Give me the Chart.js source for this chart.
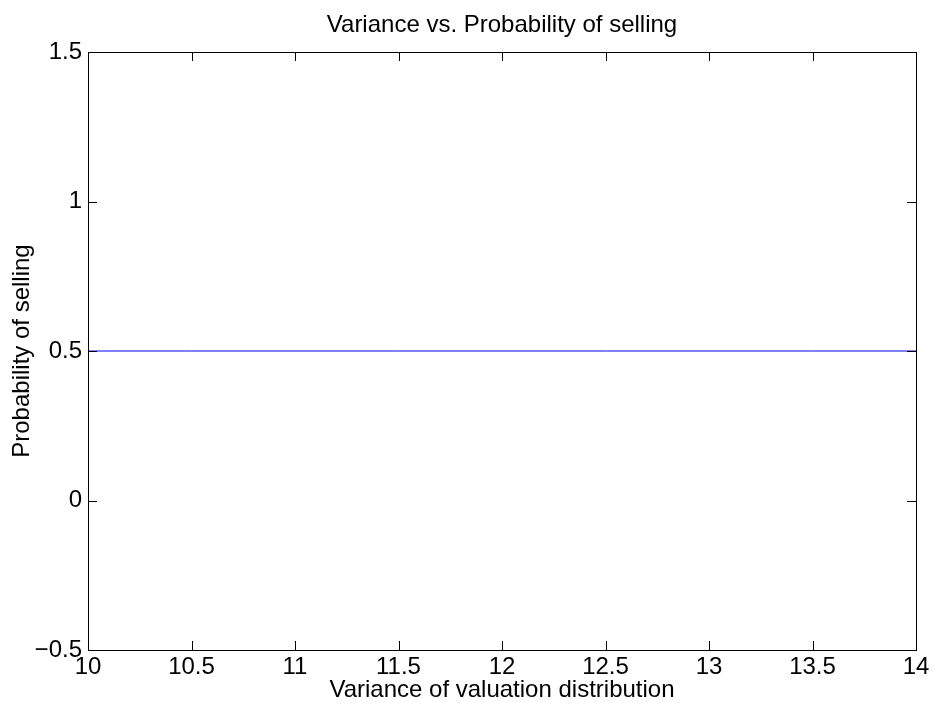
<!DOCTYPE html>
<html>
<head>
<meta charset="utf-8">
<script src="https://cdn.jsdelivr.net/npm/chart.js@4"></script>
<style>
  html, body { margin: 0; padding: 0; background: #fff; }
  #box { width: 934px; height: 703px; }
</style>
</head>
<body>
<div id="box"><canvas id="grafico"></canvas></div>
<script>
// ---- data ----
const variancias = [10, 10.5, 11, 11.5, 12, 12.5, 13, 13.5, 14];
const probVenda = [0.5, 0.5, 0.5, 0.5, 0.5, 0.5, 0.5, 0.5, 0.5];
const ticksX = [10, 10.5, 11, 11.5, 12, 12.5, 13, 13.5, 14];
const ticksY = [-0.5, 0, 0.5, 1, 1.5];

const fonte = "'Liberation Sans', Arial, Helvetica, sans-serif";

// inward ticks on all four sides + box, matlab style
const caixaPlugin = {
  id: "caixa",
  afterDraw(chart) {
    const { ctx, chartArea: a, scales } = chart;
    const len = 9;
    ctx.save();
    ctx.strokeStyle = "#000";
    ctx.lineWidth = 1;
    ctx.beginPath();
    ticksX.forEach((v) => {
      const x = Math.round(scales.x.getPixelForValue(v)) + 0.5;
      ctx.moveTo(x, a.bottom); ctx.lineTo(x, a.bottom - len);
      ctx.moveTo(x, a.top); ctx.lineTo(x, a.top + len);
    });
    ticksY.forEach((v) => {
      const y = Math.round(scales.y.getPixelForValue(v)) + 0.5;
      ctx.moveTo(a.left, y); ctx.lineTo(a.left + len, y);
      ctx.moveTo(a.right, y); ctx.lineTo(a.right - len, y);
    });
    ctx.stroke();
    ctx.strokeRect(a.left + 0.5, a.top + 0.5, a.right - a.left, a.bottom - a.top);
    ctx.restore();
  },
};

const ctx = document.getElementById("grafico").getContext("2d");
new Chart(ctx, {
  type: "line",
  data: {
    datasets: [
      {
        data: variancias.map((v, i) => ({ x: v, y: probVenda[i] })),
        borderColor: "#0000ff",
        borderWidth: 1,
        pointRadius: 0,
        tension: 0,
        fill: false,
      },
    ],
  },
  options: {
    responsive: true,
    maintainAspectRatio: false,
    animation: false,
    layout: { padding: { top: 0, right: 18, bottom: 0, left: 0 } },
    plugins: {
      legend: { display: false },
      tooltip: { enabled: false },
      title: {
        display: true,
        fullSize: false,
        text: "Variance vs. Probability of selling",
        color: "#000",
        font: { family: fonte, size: 24, weight: "normal" },
        padding: { top: 10.6, bottom: 12.6 },
      },
    },
    scales: {
      x: {
        type: "linear",
        min: 10,
        max: 14,
        afterBuildTicks: (s) => { s.ticks = ticksX.map((v) => ({ value: v })); },
        afterFit: (s) => { s.height = 53; },
        grid: { display: false, drawTicks: false },
        border: { display: false },
        ticks: {
          color: "#000",
          padding: 3,
          maxRotation: 0,
          autoSkip: false,
          font: { family: fonte, size: 24 },
          callback: (v) => String(v),
        },
        title: {
          display: true,
          text: "Variance of valuation distribution",
          color: "#000",
          font: { family: fonte, size: 24 },
          padding: { top: 0, bottom: -2 },
        },
      },
      y: {
        min: -0.5,
        max: 1.5,
        afterBuildTicks: (s) => { s.ticks = ticksY.map((v) => ({ value: v })); },
        afterFit: (s) => { s.width = 88; },
        grid: { display: false, drawTicks: false },
        border: { display: false },
        ticks: {
          color: "#000",
          padding: 6,
          autoSkip: false,
          font: { family: fonte, size: 24 },
          callback: (v) => String(v).replace("-", "\u2212"),
        },
        title: {
          display: true,
          text: "Probability of selling",
          color: "#000",
          font: { family: fonte, size: 24 },
          padding: { top: 8, bottom: 0 },
        },
      },
    },
  },
  plugins: [caixaPlugin],
});
</script>
</body>
</html>
